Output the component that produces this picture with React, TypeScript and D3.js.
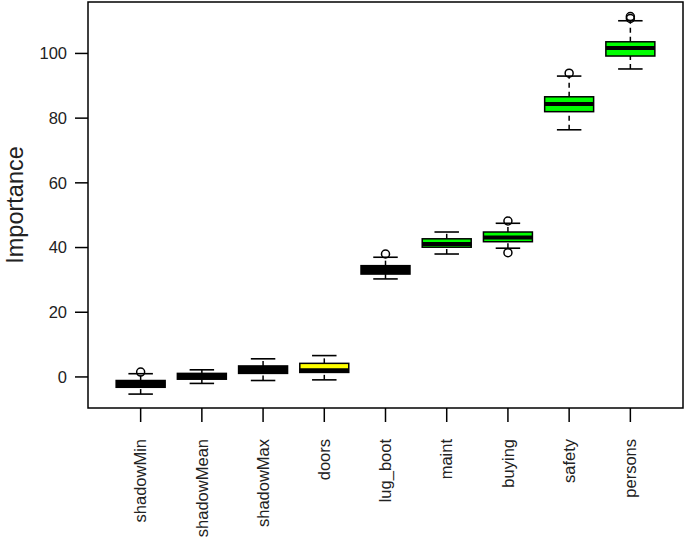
// Boxplot of attribute importance (Boruta style) drawn with d3
import React, { useEffect, useRef } from "react";
import * as d3 from "d3";

// attribute names, in plotting order
const attributes = [
  "shadowMin",
  "shadowMean",
  "shadowMax",
  "doors",
  "lug_boot",
  "maint",
  "buying",
  "safety",
  "persons",
];

// five number summaries
const lowerWhisker = [-5.3, -2.0, -1.1, -0.9, 30.3, 38.0, 39.8, 76.4, 95.2];
const lowerQuartile = [-3.2, -0.7, 1.1, 1.4, 31.8, 40.1, 41.8, 82.0, 99.2];
const medians = [-2.2, 0.3, 2.3, 2.1, 33.1, 41.1, 43.1, 84.4, 101.7];
const upperQuartile = [-1.1, 1.1, 3.4, 4.2, 34.4, 42.7, 44.8, 86.6, 103.6];
const upperWhisker = [1.0, 2.2, 5.6, 6.6, 37.0, 44.8, 47.5, 93.0, 110.1];
const outliers = [[1.5], [], [], [], [38.0], [], [38.4, 48.2], [93.9], [110.8, 111.4]];

// decision per attribute
const decisions = [
  "shadow",
  "shadow",
  "shadow",
  "tentative",
  "dark",
  "confirmed",
  "confirmed",
  "confirmed",
  "confirmed",
];

const yTicks = [0, 20, 40, 60, 80, 100];

const fillFor: Record<string, string> = {
  shadow: "#000000",
  dark: "#000000",
  tentative: "#ffff00",
  confirmed: "#00ff00",
};

export default function App() {
  const ref = useRef<SVGSVGElement>(null);

  useEffect(() => {
    const svg = d3.select(ref.current);
    svg.selectAll("*").remove();

    const width = 685;
    const height = 537;
    const left = 88;
    const right = 683;
    const top = 2;
    const bottom = 408;
    const font = "Liberation Sans, Arial, sans-serif";

    const n = attributes.length;
    // R style: positions 1..n, xlim (0.5, n+0.5) widened 4% each side
    const pad = n * 0.04;
    const x = d3
      .scaleLinear()
      .domain([0.5 - pad, n + 0.5 + pad])
      .range([left, right]);
    const y = d3.scaleLinear().domain([-9.6, 115.9]).range([bottom, top]);

    const unit = x(2) - x(1);
    const boxW = unit * 0.8;
    const capW = boxW * 0.5;

    const data = attributes.map((name, i) => ({
      name,
      pos: i + 1,
      lo: lowerWhisker[i],
      q1: lowerQuartile[i],
      med: medians[i],
      q3: upperQuartile[i],
      hi: upperWhisker[i],
      out: outliers[i],
      fill: fillFor[decisions[i]],
    }));

    const g = svg.append("g");

    // whiskers (dashed)
    g.selectAll(".wlow")
      .data(data)
      .enter()
      .append("line")
      .attr("x1", d => x(d.pos))
      .attr("x2", d => x(d.pos))
      .attr("y1", d => y(d.lo))
      .attr("y2", d => y(d.q1))
      .attr("stroke", "black")
      .attr("stroke-width", 1.5)
      .attr("stroke-dasharray", "5,4");
    g.selectAll(".whigh")
      .data(data)
      .enter()
      .append("line")
      .attr("x1", d => x(d.pos))
      .attr("x2", d => x(d.pos))
      .attr("y1", d => y(d.q3))
      .attr("y2", d => y(d.hi))
      .attr("stroke", "black")
      .attr("stroke-width", 1.5)
      .attr("stroke-dasharray", "5,4");

    // staples
    ["lo", "hi"].forEach(k => {
      g.selectAll(".cap-" + k)
        .data(data)
        .enter()
        .append("line")
        .attr("x1", d => x(d.pos) - capW / 2)
        .attr("x2", d => x(d.pos) + capW / 2)
        .attr("y1", d => y((d as any)[k]))
        .attr("y2", d => y((d as any)[k]))
        .attr("stroke", "black")
        .attr("stroke-width", 1.6);
    });

    // boxes
    g.selectAll(".box")
      .data(data)
      .enter()
      .append("rect")
      .attr("x", d => x(d.pos) - boxW / 2)
      .attr("width", boxW)
      .attr("y", d => y(d.q3))
      .attr("height", d => y(d.q1) - y(d.q3))
      .attr("fill", d => d.fill)
      .attr("stroke", "black")
      .attr("stroke-width", 1.5);

    // medians
    g.selectAll(".med")
      .data(data)
      .enter()
      .append("line")
      .attr("x1", d => x(d.pos) - boxW / 2)
      .attr("x2", d => x(d.pos) + boxW / 2)
      .attr("y1", d => y(d.med))
      .attr("y2", d => y(d.med))
      .attr("stroke", "black")
      .attr("stroke-width", 4);

    // outliers
    const pts = data.flatMap(d => d.out.map(v => ({ pos: d.pos, v })));
    g.selectAll(".out")
      .data(pts)
      .enter()
      .append("circle")
      .attr("cx", d => x(d.pos))
      .attr("cy", d => y(d.v))
      .attr("r", 4)
      .attr("fill", "none")
      .attr("stroke", "black")
      .attr("stroke-width", 1.5);

    // frame
    svg
      .append("rect")
      .attr("x", left)
      .attr("y", top)
      .attr("width", right - left)
      .attr("height", bottom - top)
      .attr("fill", "none")
      .attr("stroke", "black")
      .attr("stroke-width", 1.5);

    // y axis
    const yAxis = svg.append("g");
    yAxis
      .selectAll("line.tick")
      .data(yTicks)
      .enter()
      .append("line")
      .attr("class", "tick")
      .attr("x1", left - 13)
      .attr("x2", left)
      .attr("y1", d => y(d))
      .attr("y2", d => y(d))
      .attr("stroke", "black")
      .attr("stroke-width", 1.5);
    yAxis
      .selectAll("text")
      .data(yTicks)
      .enter()
      .append("text")
      .attr("x", left - 21)
      .attr("y", d => y(d))
      .attr("dy", "0.35em")
      .attr("text-anchor", "end")
      .attr("font-family", font)
      .attr("font-size", 16.5)
      .attr("fill", "#222")
      .text(d => d);

    // x axis
    const xAxis = svg.append("g");
    xAxis
      .selectAll("line.tick")
      .data(data)
      .enter()
      .append("line")
      .attr("class", "tick")
      .attr("x1", d => x(d.pos))
      .attr("x2", d => x(d.pos))
      .attr("y1", bottom)
      .attr("y2", bottom + 14)
      .attr("stroke", "black")
      .attr("stroke-width", 1.5);
    xAxis
      .selectAll("text")
      .data(data)
      .enter()
      .append("text")
      .attr("transform", d => `translate(${x(d.pos)},${bottom + 31}) rotate(-90)`)
      .attr("dy", "0.35em")
      .attr("text-anchor", "end")
      .attr("font-family", font)
      .attr("font-size", 16.5)
      .attr("fill", "#222")
      .text(d => d.name);

    // y label
    svg
      .append("text")
      .attr("transform", `translate(15,${(top + bottom) / 2}) rotate(-90)`)
      .attr("dy", "0.35em")
      .attr("text-anchor", "middle")
      .attr("font-family", font)
      .attr("font-size", 23.5)
      .attr("fill", "#222")
      .text("Importance");

    svg.attr("width", width).attr("height", height);
  }, []);

  return (
    <svg
      ref={ref}
      width={685}
      height={537}
      style={{ position: "absolute", left: 0, top: 0, background: "white" }}
    />
  );
}
